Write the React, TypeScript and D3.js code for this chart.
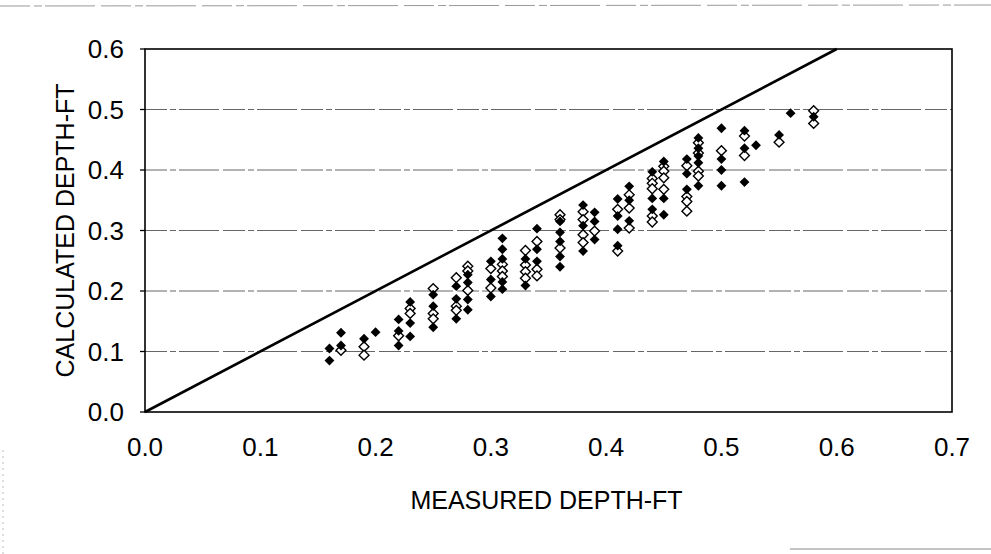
import React from "react";
import * as d3 from "d3";

// Measured depth (ft) / calculated depth (ft) — filled diamond series
const filledMeasured = [
  0.16, 0.16, 0.17, 0.17, 0.19, 0.2, 0.22, 0.22, 0.22, 0.23, 0.23, 0.23,
  0.25, 0.25, 0.25, 0.27, 0.27, 0.27, 0.28, 0.28, 0.28, 0.28, 0.3, 0.3, 0.3,
  0.31, 0.31, 0.31, 0.31, 0.31, 0.33, 0.33, 0.34, 0.34, 0.34,
  0.36, 0.36, 0.36, 0.36, 0.36, 0.38, 0.38, 0.38, 0.39, 0.39, 0.39,
  0.41, 0.41, 0.41, 0.41, 0.42, 0.42, 0.42, 0.44, 0.44, 0.44, 0.45, 0.45, 0.45,
  0.47, 0.47, 0.47, 0.48, 0.48, 0.48, 0.48, 0.48, 0.5, 0.5, 0.5, 0.5,
  0.52, 0.52, 0.52, 0.53, 0.55, 0.56, 0.58,
];
const filledCalculated = [
  0.105, 0.085, 0.131, 0.11, 0.121, 0.132, 0.153, 0.134, 0.11, 0.182, 0.147, 0.125,
  0.194, 0.175, 0.14, 0.208, 0.187, 0.154, 0.227, 0.214, 0.186, 0.169, 0.249, 0.219, 0.191,
  0.287, 0.269, 0.253, 0.215, 0.203, 0.253, 0.209, 0.303, 0.269, 0.249,
  0.315, 0.297, 0.282, 0.257, 0.24, 0.342, 0.308, 0.266, 0.33, 0.315, 0.285,
  0.352, 0.324, 0.302, 0.275, 0.373, 0.35, 0.316, 0.397, 0.353, 0.335, 0.414, 0.353, 0.326,
  0.418, 0.394, 0.368, 0.453, 0.436, 0.423, 0.412, 0.374, 0.469, 0.418, 0.4, 0.374,
  0.465, 0.436, 0.38, 0.441, 0.458, 0.494, 0.488,
];

// Hollow diamond series
const hollowMeasured = [
  0.17, 0.19, 0.19, 0.22, 0.23, 0.23, 0.25, 0.25, 0.25, 0.27, 0.27, 0.27,
  0.28, 0.28, 0.28, 0.3, 0.3, 0.31, 0.31, 0.31, 0.33, 0.33, 0.33, 0.33,
  0.34, 0.34, 0.34, 0.36, 0.36, 0.36, 0.38, 0.38, 0.38, 0.38, 0.39,
  0.41, 0.41, 0.42, 0.42, 0.42, 0.44, 0.44, 0.44, 0.44, 0.44,
  0.45, 0.45, 0.45, 0.45, 0.47, 0.47, 0.47, 0.47, 0.48, 0.48, 0.48, 0.48,
  0.5, 0.52, 0.52, 0.55, 0.58, 0.58,
];
const hollowCalculated = [
  0.102, 0.108, 0.094, 0.126, 0.171, 0.163, 0.204, 0.163, 0.154, 0.222, 0.175, 0.168,
  0.241, 0.233, 0.201, 0.237, 0.205, 0.244, 0.233, 0.224, 0.267, 0.243, 0.232, 0.221,
  0.282, 0.236, 0.225, 0.326, 0.318, 0.271, 0.331, 0.318, 0.293, 0.28, 0.299,
  0.335, 0.266, 0.359, 0.337, 0.304, 0.386, 0.378, 0.369, 0.324, 0.314,
  0.406, 0.398, 0.387, 0.368, 0.407, 0.356, 0.348, 0.332, 0.445, 0.428, 0.398, 0.39,
  0.432, 0.456, 0.424, 0.446, 0.498, 0.477,
];

// Line of equality
const equalityLine = [0, 0.6];

const xTicks = [0, 0.1, 0.2, 0.3, 0.4, 0.5, 0.6, 0.7];
const yTicks = [0, 0.1, 0.2, 0.3, 0.4, 0.5, 0.6];
const xTitle = "MEASURED DEPTH-FT";
const yTitle = "CALCULATED DEPTH-FT";

const W = 991;
const H = 554;
const L = 145;
const R = 952;
const T = 49;
const B = 412;

export default function App() {
  const x = d3.scaleLinear().domain([0, 0.7]).range([L, R]);
  const y = d3.scaleLinear().domain([0, 0.6]).range([B, T]);
  const fmt = d3.format(".1f");
  const diamond = d3.symbol().type(d3.symbolDiamond2).size(62)()!;
  const diag = d3
    .line<number>()
    .x((d) => x(d))
    .y((d) => y(d))(equalityLine)!;
  const font = "Liberation Sans, Arial, sans-serif";
  const fs = 26;

  return (
    <svg
      width={W}
      height={H}
      style={{ position: "absolute", left: 0, top: 0, background: "#fff" }}
    >
      <rect x={0} y={0} width={W} height={H} fill="#fff" />
      {/* scan edge artifacts */}
      <line x1={0} x2={W} y1={6} y2={5} stroke="#999" strokeWidth={1} strokeDasharray="30 4 8 3 50 6" />
      <line x1={790} x2={W} y1={549} y2={549} stroke="#888" strokeWidth={1} />
      <line x1={3} x2={3} y1={450} y2={554} stroke="#bbb" strokeWidth={1} strokeDasharray="2 4" />

      {/* gridlines */}
      {yTicks
        .filter((t) => t > 0 && t < 0.6)
        .map((t) => (
          <line
            key={"g" + t}
            x1={L}
            x2={R}
            y1={y(t)}
            y2={y(t)}
            stroke="#666"
            strokeWidth={1}
            strokeDasharray="22 3 6 3 40 4"
          />
        ))}

      {/* plot border */}
      <rect x={L} y={T} width={R - L} height={B - T} fill="none" stroke="#000" strokeWidth={1.6} />

      {/* y ticks */}
      {yTicks.map((t) => (
        <g key={"y" + t}>
          <line x1={L - 5} x2={L} y1={y(t)} y2={y(t)} stroke="#000" strokeWidth={1.3} />
          <text
            x={124}
            y={y(t)}
            dy="0.36em"
            textAnchor="end"
            fontFamily={font}
            fontSize={fs}
            fill="#000"
          >
            {fmt(t)}
          </text>
        </g>
      ))}

      {/* x tick labels */}
      {xTicks.map((t) => (
        <text
          key={"x" + t}
          x={x(t)}
          y={456}
          textAnchor="middle"
          fontFamily={font}
          fontSize={fs}
          fill="#000"
        >
          {fmt(t)}
        </text>
      ))}

      {/* axis titles */}
      <text x={(L + R) / 2 - 2} y={509} textAnchor="middle" fontFamily={font} fontSize={fs - 1} fill="#000">
        {xTitle}
      </text>
      <text
        transform={`translate(${74},${(T + B) / 2}) rotate(-90)`}
        textAnchor="middle"
        fontFamily={font}
        fontSize={fs - 1}
        fill="#000"
      >
        {yTitle}
      </text>

      {/* equality line */}
      <path d={diag} fill="none" stroke="#000" strokeWidth={2.6} />

      {/* hollow markers */}
      {hollowMeasured.map((m, i) => (
        <path
          key={"h" + i}
          d={diamond}
          transform={`translate(${x(m)},${y(hollowCalculated[i])})`}
          fill="#fff"
          stroke="#000"
          strokeWidth={1.4}
        />
      ))}

      {/* filled markers */}
      {filledMeasured.map((m, i) => (
        <path
          key={"f" + i}
          d={diamond}
          transform={`translate(${x(m)},${y(filledCalculated[i])})`}
          fill="#000"
        />
      ))}
    </svg>
  );
}
